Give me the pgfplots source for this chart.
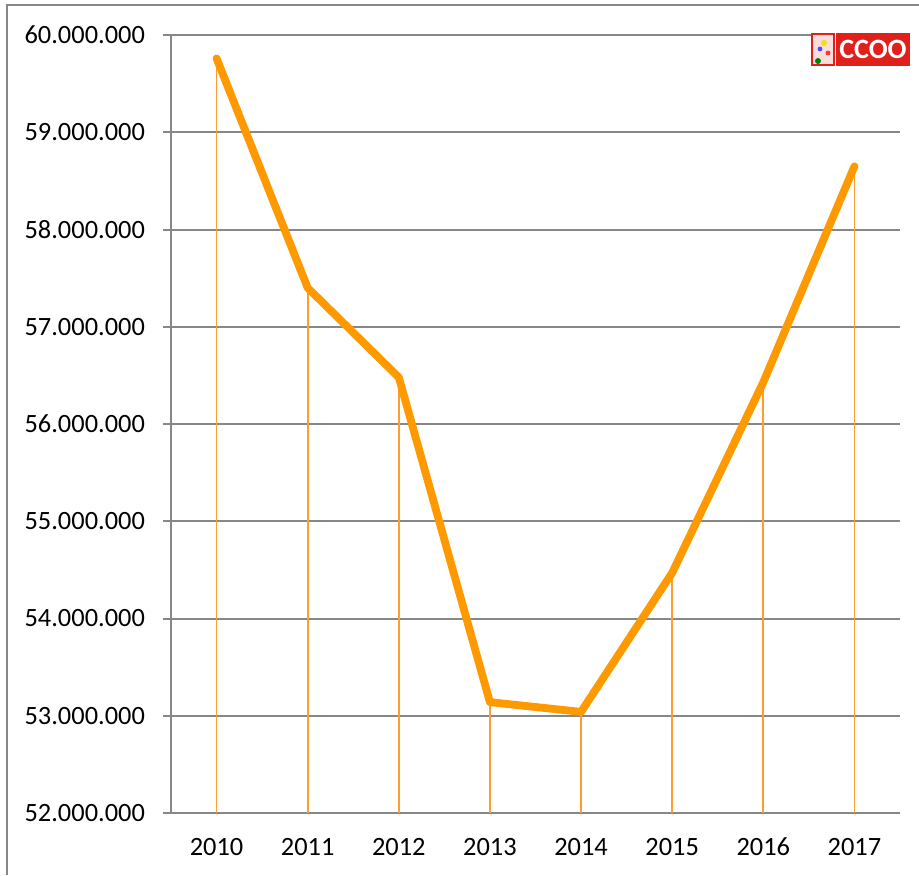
\documentclass[border=0pt]{standalone}
\usepackage{pgfplots}
\pgfplotsset{compat=1.18}
\usepackage{fontspec}
\setmainfont{Carlito}
\setsansfont{Carlito}
\definecolor{lineor}{HTML}{FF9900}
\definecolor{dropor}{HTML}{FF9D33}
\definecolor{gridgray}{HTML}{878787}
\definecolor{logored}{HTML}{E0201B}
\begin{document}
\begin{tikzpicture}
\useasboundingbox (0,0) rectangle (459.5pt,437.5pt);
\draw[gridgray, line width=1pt] (3.5pt,0) -- (3.5pt,435pt) -- (459.5pt,435pt);
\begin{axis}[
  at={(85.5pt,31pt)}, anchor=south west,
  scale only axis, width=364.5pt, height=389pt,
  xmin=-0.5, xmax=7.5, ymin=52000000, ymax=60000000,
  xtick={0,1,2,3,4,5,6,7},
  xticklabels={2010,2011,2012,2013,2014,2015,2016,2017},
  ytick={52000000,53000000,54000000,55000000,56000000,57000000,58000000,59000000,60000000},
  scaled y ticks=false,
  /pgf/number format/.cd, fixed, precision=0, 1000 sep={.}, assume math mode=true,
  /pgfplots/.cd,
  ymajorgrids, grid style={gridgray, line width=1pt},
  axis x line*=bottom, axis y line*=left,
  axis line style={gridgray, line width=1pt},
  x axis line style={-}, y axis line style={-},
  xtick style={draw=none},
  ytick style={gridgray, line width=1pt},
  ytick align=outside, major tick length=4pt,
  tick label style={font=\fontsize{13.2}{15}\selectfont, text=black},
  yticklabel style={xshift=-5.5pt},
  xticklabel style={anchor=base, yshift=-21pt},
  clip=true,
]
\addplot[ycomb, dropor, line width=0.9pt, mark=none] coordinates {
 (0,59760000) (1,57400000) (2,56480000) (3,53140000) (4,53040000) (5,54470000) (6,56430000) (7,58650000)};
\addplot[lineor, line width=3.9pt, line join=round, line cap=round, mark=none] coordinates {
 (0,59760000) (1,57400000) (2,56480000) (3,53140000) (4,53040000) (5,54470000) (6,56430000) (7,58650000)};
\end{axis}
% logo
\fill[logored] (405.5pt,404.5pt) rectangle (455pt,421pt);
\fill[white!85!logored] (406.5pt,405.5pt) rectangle (416.5pt,420pt);
\fill[green!50!black] (409pt,407pt) circle (1.5pt);
\fill[yellow!80!orange] (412pt,416pt) circle (1.5pt);
\fill[blue!70] (410pt,413pt) circle (1.2pt);
\fill[red!80] (414pt,411pt) circle (1.2pt);
\fill[white] (417.5pt,404.5pt) rectangle (418pt,421pt);
\node[text=white, font=\fontsize{14}{14}\selectfont\bfseries, inner sep=0pt] at (436.5pt,412.8pt) {CCOO};
\end{tikzpicture}
\end{document}
